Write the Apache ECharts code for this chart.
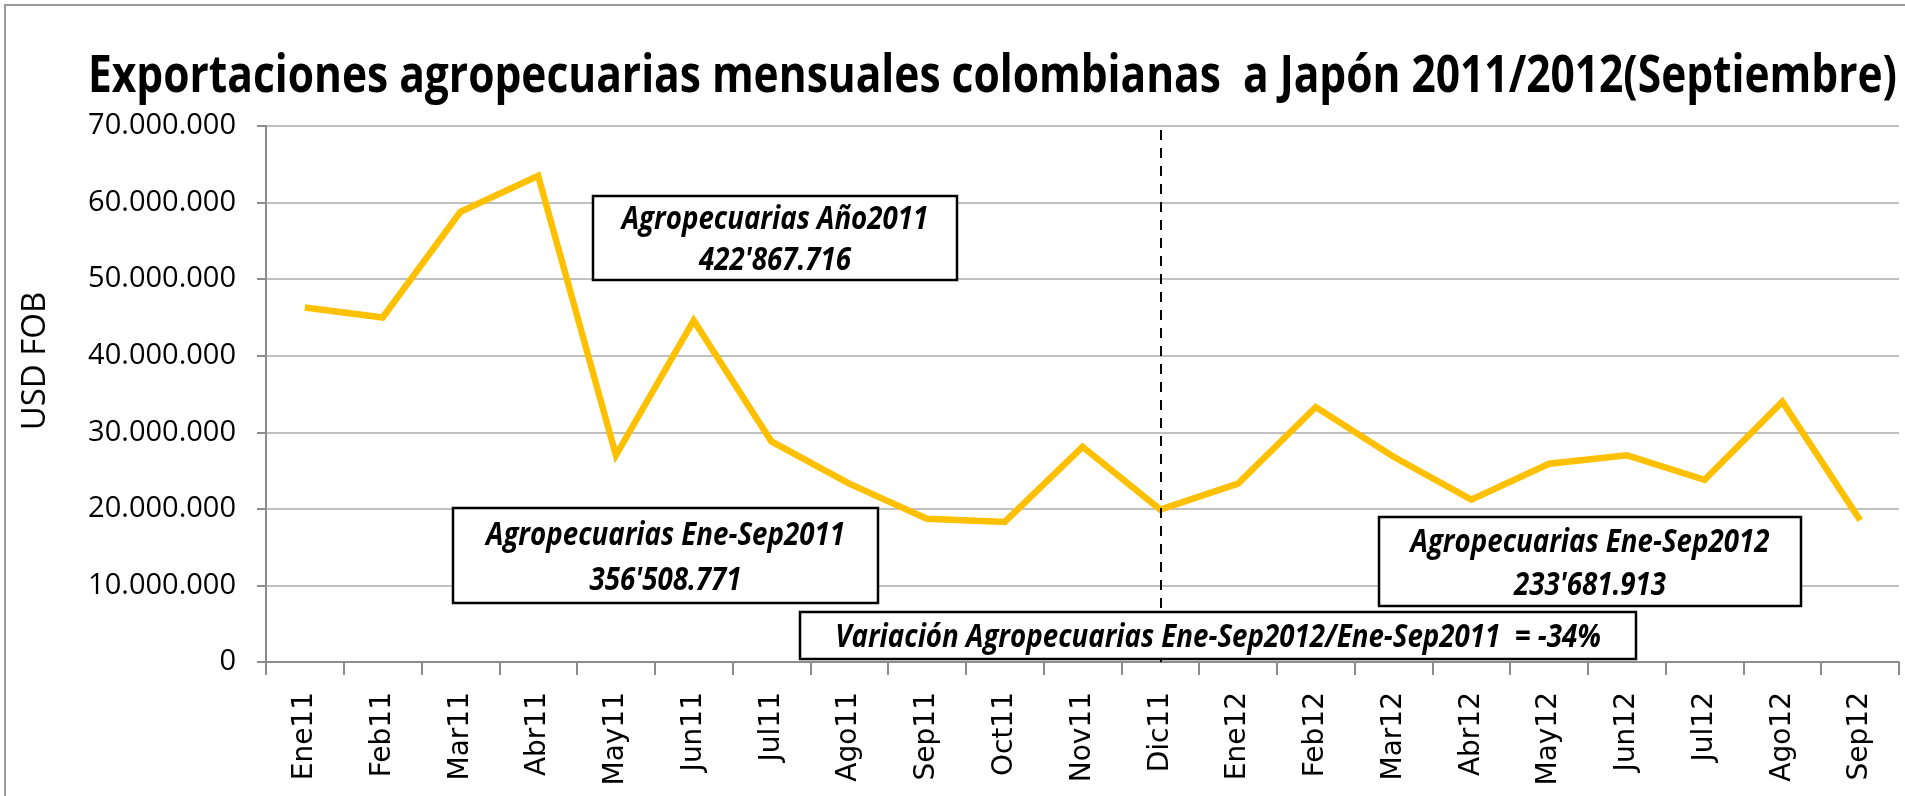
<!DOCTYPE html>
<html>
<head>
<meta charset="utf-8">
<script src="https://cdn.jsdelivr.net/npm/echarts@6/dist/echarts.min.js"></script>
<style>
  html, body { margin: 0; padding: 0; background: #fff; }
  #main { width: 1905px; height: 796px; }
</style>
</head>
<body>
<div id="main"></div>
<script>
var meses = ['Ene11', 'Feb11', 'Mar11', 'Abr11', 'May11', 'Jun11', 'Jul11', 'Ago11', 'Sep11', 'Oct11', 'Nov11', 'Dic11',
    'Ene12', 'Feb12', 'Mar12', 'Abr12', 'May12', 'Jun12', 'Jul12', 'Ago12', 'Sep12'];
var exportaciones = [46300000, 45000000, 58800000, 63500000, 27000000, 44600000, 28800000, 23300000, 18700000, 18300000, 28100000, 19900000,
    23300000, 33300000, 26800000, 21200000, 25900000, 27000000, 23800000, 34000000, 18500000];
var titulo = 'Exportaciones agropecuarias mensuales colombianas  a Japón 2011/2012(Septiembre)';
var cajas = [
    {lineas: ['Agropecuarias Año2011', "422'867.716"], x: 593, y: 196, w: 364, h: 84},
    {lineas: ['Agropecuarias Ene-Sep2011', "356'508.771"], x: 453, y: 508, w: 425, h: 95},
    {lineas: ['Agropecuarias Ene-Sep2012', "233'681.913"], x: 1379, y: 517, w: 422, h: 89},
    {lineas: ['Variación Agropecuarias Ene-Sep2012/Ene-Sep2011  = -34%'], x: 800, y: 612, w: 836, h: 47}
];

var fuente = "'Open Sans', sans-serif";
var fuenteTitulo = 'bold 52px ' + fuente;
var fuenteCaja = 'italic bold 32px ' + fuente;

function puntos(v) {
    return String(v).replace(/\B(?=(\d{3})+(?!\d))/g, '.');
}

// el original usa una letra estrecha (Calibri), se comprime en horizontal
var ctx = document.createElement('canvas').getContext('2d');
function ancho(texto, font) {
    ctx.font = font;
    return ctx.measureText(texto).width;
}
var escalaTitulo = 1809 / ancho(titulo, fuenteTitulo);
var escalaCaja = 359 / ancho('Agropecuarias Ene-Sep2011', fuenteCaja);

var graficos = [{
    type: 'rect',
    shape: {x: 5, y: 5, width: 1930, height: 830},
    style: {fill: 'none', stroke: '#9a9a9a', lineWidth: 2},
    z: -1
}, {
    type: 'text',
    x: 88,
    y: 77,
    scaleX: escalaTitulo,
    style: {text: titulo, fill: '#000', font: fuenteTitulo, textAlign: 'left', textVerticalAlign: 'middle'}
}, {
    type: 'text',
    x: 36,
    y: 361,
    rotation: Math.PI / 2,
    style: {text: 'USD FOB', fill: '#000', font: '33px ' + fuente, textAlign: 'center', textVerticalAlign: 'middle'}
}];
for (var i = 0; i < cajas.length; i++) {
    var c = cajas[i];
    graficos.push({
        type: 'rect',
        shape: {x: c.x, y: c.y, width: c.w, height: c.h},
        style: {fill: '#fff', stroke: '#000', lineWidth: 2.5},
        z: 10
    });
    var pos = c.lineas.length == 1 ? [0.55] : [0.29, 0.77];
    for (var j = 0; j < c.lineas.length; j++) {
        graficos.push({
            type: 'text',
            x: c.x + c.w / 2,
            y: c.y + c.h * pos[j],
            scaleX: escalaCaja,
            style: {
                text: c.lineas[j],
                fill: '#000',
                font: fuenteCaja,
                textAlign: 'center',
                textVerticalAlign: 'middle'
            },
            z: 11
        });
    }
}

var myChart = echarts.init(document.getElementById('main'));
var option = {
    animation: false,
    grid: {left: 266, right: 6, top: 126, bottom: 134},
    xAxis: {
        type: 'category',
        data: meses,
        boundaryGap: true,
        axisLine: {lineStyle: {color: '#8c8c8c', width: 2}},
        axisTick: {show: true, length: 13, lineStyle: {color: '#8c8c8c', width: 2}},
        axisLabel: {rotate: 90, margin: 30, fontFamily: "'DejaVu Sans', sans-serif", fontSize: 28, color: '#000', interval: 0}
    },
    yAxis: {
        type: 'value',
        min: 0,
        max: 70000000,
        interval: 10000000,
        axisLine: {show: true, lineStyle: {color: '#8c8c8c', width: 2}},
        axisTick: {show: true, length: 9, lineStyle: {color: '#8c8c8c', width: 2}},
        axisLabel: {margin: 30, fontFamily: fuente, fontSize: 29, color: '#000', formatter: puntos},
        splitLine: {lineStyle: {color: '#c0c0c0', width: 2}}
    },
    series: [{
        name: 'Agropecuarias',
        type: 'line',
        data: exportaciones,
        symbol: 'none',
        lineStyle: {color: '#FFC000', width: 6.5, join: 'miter'},
        markLine: {
            silent: true,
            symbol: 'none',
            label: {show: false},
            lineStyle: {color: '#000', type: [10, 8], width: 2},
            data: [{xAxis: 'Dic11'}]
        }
    }],
    graphic: graficos
};
myChart.setOption(option);
</script>
</body>
</html>
